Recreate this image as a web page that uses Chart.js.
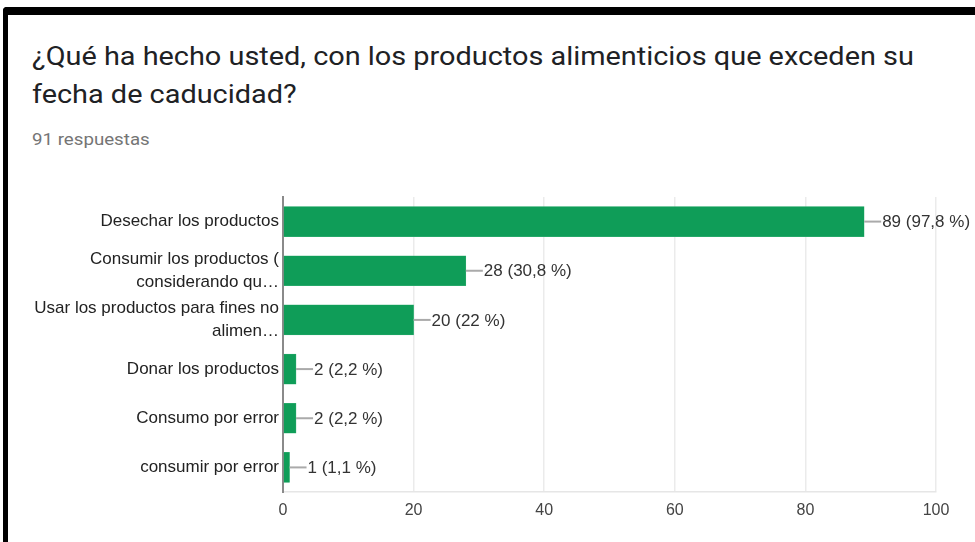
<!DOCTYPE html>
<html lang="es">
<head>
<meta charset="utf-8">
<title>Productos alimenticios caducados</title>
<script src="https://cdn.jsdelivr.net/npm/chart.js@4"></script>
<style>
  html, body { margin: 0; padding: 0; background: #fff; }
  body { width: 975px; height: 542px; position: relative; overflow: hidden; }
  .frame {
    position: absolute; left: 3px; top: 7px; width: 980px; height: 560px;
    border-top: 8px solid #000; border-left: 5px solid #000;
    border-top-left-radius: 4px; box-sizing: border-box;
  }
  .title {
    position: absolute; left: 32px; top: 37px; margin: 0; white-space: nowrap;
    font: 400 26px/38px Roboto, sans-serif; color: #202124;
    transform: scaleX(1.11); transform-origin: left top;
  }
  .count {
    position: absolute; left: 32px; top: 129px;
    font: 400 17px Roboto, sans-serif; color: #757575;
    transform: scaleX(1.1); transform-origin: left top;
  }
  #chart { position: absolute; left: 0; top: 0; }
</style>
</head>
<body>
<div class="frame"></div>
<h1 class="title">¿Qué ha hecho usted, con los productos alimenticios que exceden su<br>fecha de caducidad?</h1>
<div class="count">91 respuestas</div>
<canvas id="chart" width="975" height="542"></canvas>
<script>
const respuestas = 91;

const categorias = [
  "Desechar los productos",
  ["Consumir los productos (", "considerando qu…"],
  ["Usar los productos para fines no", "alimen…"],
  "Donar los productos",
  "Consumo por error",
  "consumir por error",
];
const votos = [89, 28, 20, 2, 2, 1];
const ejeX = [0, 20, 40, 60, 80, 100];

const verde = "#0f9d58";
const fuente = "'Liberation Sans', Arial, sans-serif";

// "89 (97,8 %)" style labels with a short leader line after each bar
const etiquetas = {
  id: "etiquetas",
  afterDatasetsDraw(chart) {
    const { ctx } = chart;
    const meta = chart.getDatasetMeta(0);
    ctx.save();
    ctx.font = "17px " + fuente;
    ctx.textBaseline = "middle";
    ctx.textAlign = "left";
    meta.data.forEach((bar, i) => {
      const v = votos[i];
      let pct = (v / respuestas * 100).toFixed(1).replace(".", ",");
      if (pct.endsWith(",0")) pct = pct.slice(0, -2);
      ctx.strokeStyle = "#aaaaaa";
      ctx.lineWidth = 2;
      ctx.beginPath();
      ctx.moveTo(bar.x, bar.y);
      ctx.lineTo(bar.x + 17, bar.y);
      ctx.stroke();
      ctx.fillStyle = "#333";
      ctx.fillText(v + " (" + pct + " %)", bar.x + 18, bar.y + 1);
    });
    ctx.restore();
  },
};

new Chart(document.getElementById("chart"), {
  type: "bar",
  data: {
    labels: categorias,
    datasets: [{
      data: votos,
      backgroundColor: verde,
      borderColor: "#3fb27a",
      borderWidth: 0.5,
      barThickness: 30,
    }],
  },
  options: {
    indexAxis: "y",
    responsive: false,
    animation: false,
    layout: { padding: { top: 197, right: 39, bottom: 0, left: 0 } },
    plugins: { legend: { display: false }, tooltip: { enabled: false } },
    scales: {
      x: {
        min: 0,
        max: 100,
        afterBuildTicks: (s) => { s.ticks = ejeX.map((v) => ({ value: v })); },
        afterFit: (s) => { s.height = 50; },
        grid: { color: "#ebebeb", lineWidth: 1.5, drawTicks: false },
        border: { color: "#e6e6e6", width: 1.5 },
        ticks: { padding: 9, color: "#444", font: { family: fuente, size: 16 } },
      },
      y: {
        afterFit: (s) => { s.width = 283; },
        grid: { display: false, drawTicks: false },
        border: { color: "#8a8a8a", width: 2 },
        ticks: {
          autoSkip: false,
          padding: 4,
          color: "#222",
          font: { family: fuente, size: 17, lineHeight: 1.35 },
        },
      },
    },
  },
  plugins: [etiquetas],
});
</script>
</body>
</html>
